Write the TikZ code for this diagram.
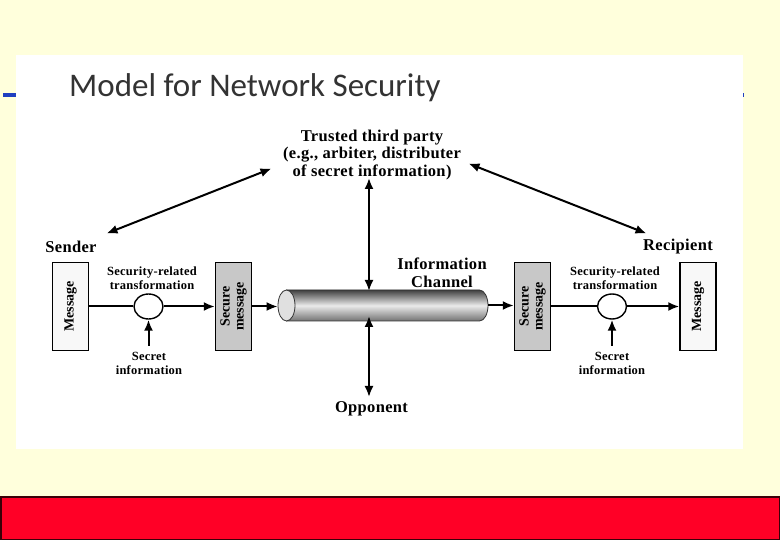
\documentclass[tikz,border=0pt]{standalone}
\usepackage{fontspec}
\usetikzlibrary{arrows.meta,shapes.geometric}
\newfontfamily\titlefont{Carlito}
\newfontfamily\bigfont[LetterSpace=2]{Liberation Serif Bold}
\newfontfamily\smallfont[LetterSpace=2]{Liberation Serif Bold}
\newfontfamily\boxfont{Liberation Serif Bold}
\definecolor{bgyellow}{HTML}{FFFFDC}
\definecolor{barred}{HTML}{FF0026}
\definecolor{barborder}{HTML}{3A0008}
\definecolor{lineblue}{HTML}{2040C0}
\definecolor{secgray}{HTML}{C8C8C8}
\definecolor{msgfill}{HTML}{F8F8F8}
\tikzset{
  biglbl/.style={font=\bigfont\fontsize{16.5}{17.5}\selectfont, align=center, inner sep=0pt},
  smalllbl/.style={font=\smallfont\fontsize{12.5}{14}\selectfont, align=center, inner sep=0pt},
  boxtxt/.style={font=\boxfont\fontsize{14}{14}\selectfont, align=center, rotate=90, inner sep=0pt},
  msgbox/.style={draw, line width=1.4pt, fill=msgfill, minimum width=36pt, minimum height=88pt, inner sep=0pt},
  secbox/.style={draw, line width=1.4pt, fill=secgray, minimum width=36pt, minimum height=88pt, inner sep=0pt},
  xform/.style={draw, ellipse, line width=1.4pt, fill=white, minimum width=29pt, minimum height=25pt, inner sep=0pt},
  arr/.style={line width=2pt, -{Latex[length=11pt,width=9pt]}},
  darr/.style={line width=2pt, {Latex[length=11pt,width=9pt]}-{Latex[length=11pt,width=9pt]}},
  plain/.style={line width=2pt}
}
\begin{document}
\begin{tikzpicture}[x=1pt,y=-1pt]
\useasboundingbox (0,0) rectangle (780,540);
% background
\fill[bgyellow] (0,0) rectangle (780,540);
\fill[lineblue] (3,93) rectangle (744,97);
\fill[white] (16,55) rectangle (743,449);
\draw[barborder, line width=1.5pt, fill=barred] (0.75,496.75) rectangle (779.25,539.25);
% title
\node[anchor=base west, inner sep=0pt, text=black!80, font=\titlefont\fontsize{33}{36}\selectfont] (title) at (69,97) {Model for Network Security};

% labels
\node[biglbl] (ttp) at (372,155) {Trusted third party\\(e.g., arbiter, distributer\\of secret information)};
\node[biglbl] (sender) at (71,247) {Sender};
\node[biglbl] (recip) at (678,247) {Recipient};
\node[biglbl] (chan) at (442,273) {Information\\Channel};
\node[biglbl] (opp) at (371.5,409) {Opponent};

% left side
\node[msgbox] (msgL) at (70.5,306.5) {};
\node[boxtxt] at (msgL) {Message};
\node[xform] (circL) at (148.5,306.5) {};
\node[secbox] (secL) at (233.5,306.5) {};
\node[boxtxt] at (secL) {Secure\\message};
\node[smalllbl] (strL) at (152,278) {Security-related\\transformation};
\node[smalllbl] (siL) at (149,363) {Secret\\information};
\coordinate (siLs) at (148.5,346);

% right side
\node[secbox] (secR) at (532.5,306.5) {};
\node[boxtxt] at (secR) {Secure\\message};
\node[xform] (circR) at (612,306.5) {};
\node[msgbox] (msgR) at (698,306.5) {};
\node[boxtxt] at (msgR) {Message};
\node[smalllbl] (strR) at (615,278) {Security-related\\transformation};
\node[smalllbl] (siR) at (612,363) {Secret\\information};
\coordinate (siRs) at (612,346);

% cylinder
\shade[top color=black!75, bottom color=black!55, middle color=black!8, draw=black!80, line width=0.8pt]
  (286.5,290) -- (479.5,290) arc[start angle=-90, end angle=90, x radius=8.5, y radius=15.5] -- (286.5,321) -- cycle;
\node[draw=black!80, line width=0.8pt, fill=black!12, ellipse, minimum width=17pt, minimum height=31pt, inner sep=0pt] (face) at (286.5,305.5) {};
\coordinate (cylR) at (488,305.5);
\coordinate (cylT) at (369,290);
\coordinate (cylB) at (369,321);

% connectors
\draw[plain] (msgL.east |- circL) -- (circL.west);
\draw[arr] (circL.east) -- (secL.west |- circL);
\draw[arr] (secL.east |- circL) -- (face.west |- circL);
\draw[arr] (siLs) -- (circL.south);
\draw[arr] (cylR) -- (secR.west |- cylR);
\draw[plain] (secR.east |- circR) -- (circR.west);
\draw[arr] (circR.east) -- (msgR.west |- circR);
\draw[arr] (siRs) -- (circR.south);

\coordinate (ttpB) at (369,178);
\coordinate (ttpL) at (271.5,168.5);
\coordinate (ttpR) at (468.5,163.5);
\coordinate (sendA) at (106.5,233.5);
\coordinate (recA) at (646.5,233.5);
\coordinate (oppT) at (369,397);
\draw[darr] (ttpB) -- ([yshift=-1pt]cylT);
\draw[darr] (ttpL) -- (sendA);
\draw[darr] (ttpR) -- (recA);
\draw[darr] ([yshift=5pt]cylB) -- (oppT);
\end{tikzpicture}
\end{document}
